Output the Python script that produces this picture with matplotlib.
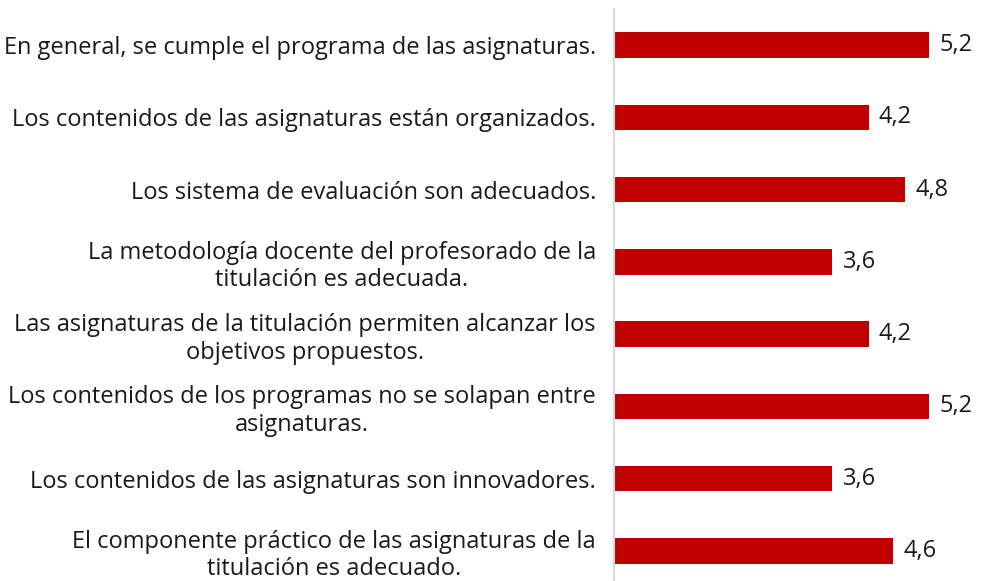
import matplotlib.pyplot as plt

labels = [
    "En general, se cumple el programa de las asignaturas.",
    "Los contenidos de las asignaturas están organizados.",
    "Los sistema de evaluación son adecuados.",
    "La metodología docente del profesorado de la\ntitulación es adecuada.",
    "Las asignaturas de la titulación permiten alcanzar los\nobjetivos propuestos.",
    "Los contenidos de los programas no se solapan entre\nasignaturas.",
    "Los contenidos de las asignaturas son innovadores.",
    "El componente práctico de las asignaturas de la\ntitulación es adecuado.",
]
values = [5.2, 4.2, 4.8, 3.6, 4.2, 5.2, 3.6, 4.6]

plt.rcParams['font.family'] = ['Open Sans', 'DejaVu Sans']
fs = 17

fig = plt.figure(figsize=(9.81, 5.81), dpi=100)
ax = fig.add_axes([614 / 981, -6 / 581, 367 / 981, 578 / 581])

pos = list(range(len(values)))
ax.barh(pos, values, height=0.35, color='#C00000')
ax.set_xlim(0, 367 / 60.6)
ax.set_ylim(len(values) - 0.5, -0.5)

for p, v in zip(pos, values):
    ax.text(v + 0.17, p, f"{v:.1f}".replace('.', ','), va='center', ha='left',
            fontsize=fs, color='#1a1a1a')

ax.set_yticks(pos)
ax.set_yticklabels(labels, ha='right', multialignment='center', fontsize=fs,
                   color='#1a1a1a', linespacing=1.2)
ax.tick_params(axis='y', length=0, pad=13)
ax.set_xticks([])

for s in ['top', 'right', 'bottom']:
    ax.spines[s].set_visible(False)
ax.spines['left'].set_color('#D9D9D9')
ax.spines['left'].set_linewidth(1.5)

fig.savefig('out.png', dpi=100)
